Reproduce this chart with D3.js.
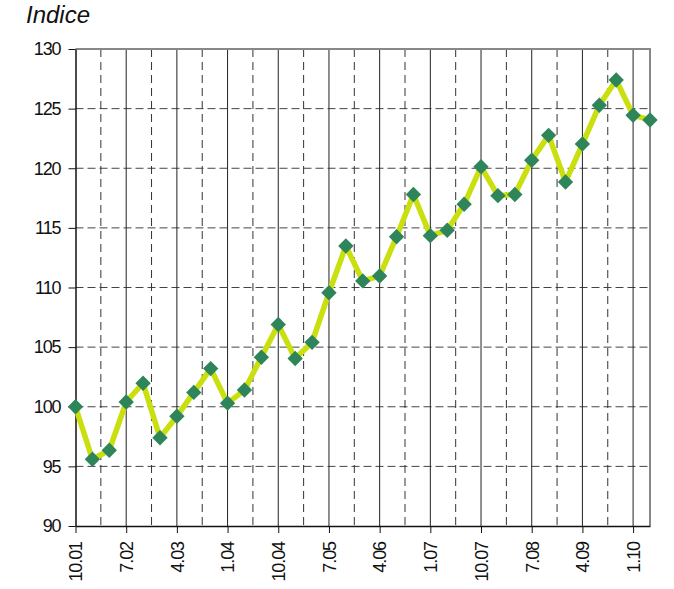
<!DOCTYPE html>
<html>
<head>
<meta charset="utf-8">
<script src="https://cdn.jsdelivr.net/npm/d3@7"></script>
<style>
  body { margin: 0; background: #fff; }
  text { font-family: "Liberation Sans", Arial, sans-serif; }
</style>
</head>
<body>
<svg id="chart"></svg>
<script>
/* Quarterly index values, 10.01 to 4.10. */
const values = [
  100.0, 95.6, 96.35, 100.4, 101.97, 97.4, 99.2, 101.2, 103.2, 100.3,
  101.4, 104.15, 106.9, 104.05, 105.4, 109.56, 113.48, 110.55, 110.96, 114.26,
  117.8, 114.35, 114.8, 116.98, 120.13, 117.7, 117.8, 120.67, 122.76, 118.85,
  122.03, 125.28, 127.4, 124.44, 124.05
]

/* Tick labels, every third quarter. */
const xLabels = ["10.01", "7.02", "4.03", "1.04", "10.04", "7.05", "4.06", "1.07", "10.07", "7.08", "4.09", "1.10"]
const yTicks = [90, 95, 100, 105, 110, 115, 120, 125, 130]
const title = "Indice"

/* Svg size and margins. */
const width = 674
const height = 589
const margin = { top: 49, right: 24, bottom: 63, left: 75.5 }
const innerW = width - margin.left - margin.right
const innerH = height - margin.top - margin.bottom

const svg = d3.select("#chart")
  .attr("width", width)
  .attr("height", height)

const g = svg.append("g")
  .attr("transform", `translate(${margin.left},${margin.top})`)

/* Scales. */
const xScale = d3.scaleLinear()
  .domain([0, values.length - 1])
  .range([0, innerW])

const yScale = d3.scaleLinear()
  .domain([90, 130])
  .range([innerH, 0])

const labelIdx = xLabels.map((d, i) => i * 3)
const midIdx = labelIdx.map(i => i + 1.5).filter(i => i < values.length - 1)

/* Horizontal dashed grid. */
g.append("g")
  .selectAll("line")
  .data(yTicks.filter(d => d > 90 && d < 130))
  .join("line")
  .attr("x1", 0)
  .attr("x2", innerW)
  .attr("y1", d => yScale(d))
  .attr("y2", d => yScale(d))
  .attr("stroke", "#444")
  .attr("stroke-width", 1)
  .attr("stroke-dasharray", "8,4")

/* Vertical dashed grid between labels. */
g.append("g")
  .selectAll("line")
  .data(midIdx)
  .join("line")
  .attr("x1", d => xScale(d))
  .attr("x2", d => xScale(d))
  .attr("y1", 0)
  .attr("y2", innerH)
  .attr("stroke", "#333")
  .attr("stroke-width", 1)
  .attr("stroke-dasharray", "8,5")

/* Vertical solid grid at labels. */
g.append("g")
  .selectAll("line")
  .data(labelIdx.slice(1))
  .join("line")
  .attr("x1", d => xScale(d))
  .attr("x2", d => xScale(d))
  .attr("y1", 0)
  .attr("y2", innerH)
  .attr("stroke", "#222")
  .attr("stroke-width", 1)

/* Top and right border. */
g.append("path")
  .attr("d", `M0,0H${innerW}V${innerH}`)
  .attr("fill", "none")
  .attr("stroke", "#888")
  .attr("stroke-width", 2)

/* Y axis. */
const yAxis = d3.axisLeft(yScale)
  .tickValues(yTicks)
  .tickSize(7)
  .tickSizeOuter(0)
  .tickPadding(8)

g.append("g")
  .call(yAxis)
  .call(a => a.select(".domain").attr("stroke", "#111").attr("stroke-width", 1.5))
  .call(a => a.selectAll(".tick line").attr("stroke", "#111"))
  .call(a => a.selectAll("text")
    .attr("font-size", 18)
    .attr("fill", "#111")
    .attr("letter-spacing", -1.1))

/* X axis. */
const xAxis = d3.axisBottom(xScale)
  .tickValues(labelIdx)
  .tickFormat((d, i) => xLabels[i])
  .tickSize(7)
  .tickSizeOuter(0)
  .tickPadding(6)

g.append("g")
  .attr("transform", `translate(0,${innerH})`)
  .call(xAxis)
  .call(a => a.select(".domain").attr("stroke", "#111").attr("stroke-width", 1.5))
  .call(a => a.selectAll(".tick line").attr("stroke", "#111"))
  .call(a => a.selectAll("text")
    .attr("font-size", 18)
    .attr("fill", "#111")
    .attr("letter-spacing", -1.1)
    .attr("transform", "rotate(-90)")
    .attr("text-anchor", "end")
    .attr("dy", "0.35em")
    .attr("x", -16)
    .attr("y", 0))

/* Line. */
const line = d3.line()
  .x((d, i) => xScale(i))
  .y(d => yScale(d))

g.append("path")
  .datum(values)
  .attr("d", line)
  .attr("fill", "none")
  .attr("stroke", "#c9e00e")
  .attr("stroke-width", 5.5)
  .attr("stroke-linejoin", "miter")

/* Diamond markers. */
g.append("g")
  .selectAll("path")
  .data(values)
  .join("path")
  .attr("d", d3.symbol(d3.symbolSquare, 118))
  .attr("transform", (d, i) => `translate(${xScale(i)},${yScale(d)}) rotate(45)`)
  .attr("fill", "#2e855a")

/* Title. */
svg.append("text")
  .attr("x", 26)
  .attr("y", 23)
  .attr("font-size", 24)
  .attr("font-style", "italic")
  .attr("fill", "#111")
  .text(title)
</script>
</body>
</html>
